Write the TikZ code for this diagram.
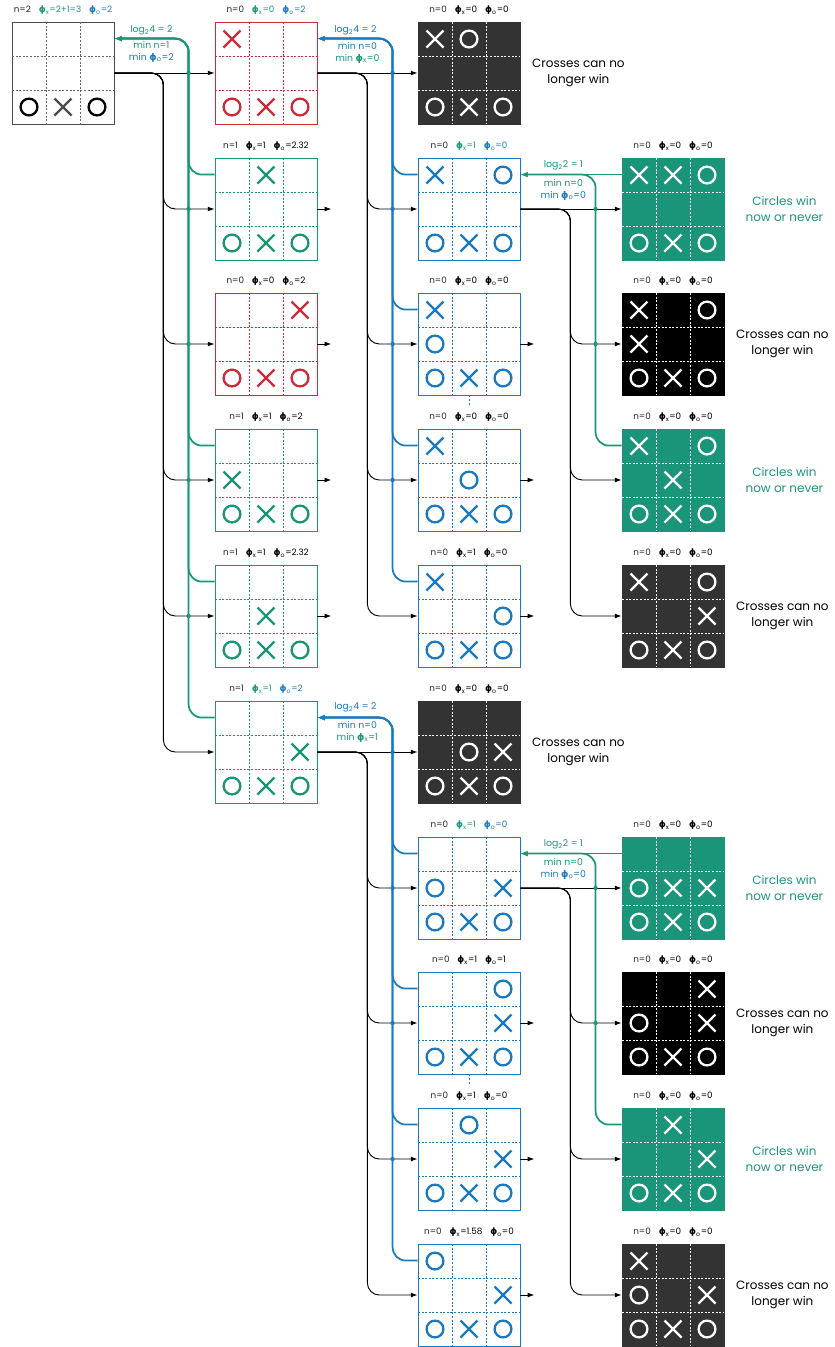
\documentclass[tikz,border=0pt]{standalone}
\usepackage{fontspec}
\setmainfont{Poppins}
\newfontfamily\phifont{DejaVu Sans}
\usetikzlibrary{calc,arrows.meta,positioning}
\definecolor{tgreen}{HTML}{1A957A}
\definecolor{tblue}{HTML}{1B79BE}
\definecolor{tred}{HTML}{CF2A3A}
\definecolor{tdark}{HTML}{333333}
\newcommand{\phix}{{\phifont\bfseries ϕ}\textsubscript{x}}
\newcommand{\phio}{{\phifont\bfseries ϕ}\textsubscript{o}}
\newcommand{\lblsep}{\hspace{0.9em}}
\newcommand{\stats}[5]{n=#1\lblsep\textcolor{#4}{\phix=#2}\lblsep\textcolor{#5}{\phio=#3}}
% #1 name, #2 centre, #3 board style, #4 grid colour, #5 cross colour, #6 circle colour, #7 crosses, #8 circles
\newcommand{\tttboard}[8]{%
  \node[board, #3] (#1) at (#2) {};
  \begin{scope}[shift={(#2)}]
    \draw[gridline, #4] (-17,-51) -- (-17,51) (17,-51) -- (17,51) (-51,-17) -- (51,-17) (-51,17) -- (51,17);
    \foreach \rw/\cl in {#7}
      \draw[tttmark, #5] ({(\cl-2)*34-8.5},{(\rw-2)*34-8.5}) -- ++(17,17) ++(-17,0) -- ++(17,-17);
    \foreach \rw/\cl in {#8}
      \draw[tttmark, #6] ({(\cl-2)*34},{(\rw-2)*34}) circle (6.3pt);
  \end{scope}}

\begin{document}
\begin{tikzpicture}[x=0.75pt,y=-0.75pt,
  board/.style={rectangle, minimum size=76.5pt, inner sep=0pt, line width=0.6pt},
  plainboard/.style={draw=black!70, fill=white},
  redboard/.style={draw=tred, fill=white},
  greenboard/.style={draw=tgreen, fill=white},
  blueboard/.style={draw=tblue, fill=white},
  darkboard/.style={draw=tdark, fill=tdark},
  blackboard/.style={draw=black, fill=black},
  winboard/.style={draw=tgreen, fill=tgreen},
  gridline/.style={line width=0.5pt, dash pattern=on 1.5pt off 1.2pt},
  tttmark/.style={line width=1.7pt},
  playline/.style={-{Latex[length=5pt,width=3.6pt]}, line width=0.7pt, rounded corners=9pt},
  scoreline/.style={-{Latex[length=5.5pt,width=4.2pt]}, line width=1.3pt, rounded corners=10pt},
  boardlabel/.style={font=\fontsize{6.6}{7.5}\selectfont, inner sep=1pt, text=black!85},
  scorenote/.style={font=\fontsize{7}{9}\selectfont, align=center, inner sep=0pt},
  verdict/.style={font=\fontsize{9}{12}\selectfont, align=center}]
  \useasboundingbox (0,0) rectangle (835,1347);

  % column 1
  \tttboard{b1}{63,73}{plainboard}{black!60}{black!70}{black}{3/2}{3/1,3/3}
  % column 2
  \tttboard{b2a}{266,73}{redboard}{tred}{tred}{tred}{1/1,3/2}{3/1,3/3}
  \tttboard{b2b}{266,209}{greenboard}{tgreen}{tgreen}{tgreen}{1/2,3/2}{3/1,3/3}
  \tttboard{b2c}{266,344}{redboard}{tred}{tred}{tred}{1/3,3/2}{3/1,3/3}
  \tttboard{b2d}{266,480}{greenboard}{tgreen}{tgreen}{tgreen}{2/1,3/2}{3/1,3/3}
  \tttboard{b2e}{266,616}{greenboard}{tgreen}{tgreen}{tgreen}{2/2,3/2}{3/1,3/3}
  \tttboard{b2f}{266,752}{greenboard}{tgreen}{tgreen}{tgreen}{2/3,3/2}{3/1,3/3}
  % column 3
  \tttboard{b3a}{469,73}{darkboard}{white}{white}{white}{1/1,3/2}{1/2,3/1,3/3}
  \tttboard{b3b}{469,209}{blueboard}{tblue}{tblue}{tblue}{1/1,3/2}{1/3,3/1,3/3}
  \tttboard{b3c}{469,344}{blueboard}{tblue}{tblue}{tblue}{1/1,3/2}{2/1,3/1,3/3}
  \tttboard{b3d}{469,480}{blueboard}{tblue}{tblue}{tblue}{1/1,3/2}{2/2,3/1,3/3}
  \tttboard{b3e}{469,616}{blueboard}{tblue}{tblue}{tblue}{1/1,3/2}{2/3,3/1,3/3}
  \tttboard{b3f}{469,752}{darkboard}{white}{white}{white}{2/3,3/2}{2/2,3/1,3/3}
  \tttboard{b3g}{469,888}{blueboard}{tblue}{tblue}{tblue}{2/3,3/2}{2/1,3/1,3/3}
  \tttboard{b3h}{469,1023}{blueboard}{tblue}{tblue}{tblue}{2/3,3/2}{1/3,3/1,3/3}
  \tttboard{b3i}{469,1159}{blueboard}{tblue}{tblue}{tblue}{2/3,3/2}{1/2,3/1,3/3}
  \tttboard{b3j}{469,1295}{blueboard}{tblue}{tblue}{tblue}{2/3,3/2}{1/1,3/1,3/3}
  % column 4
  \tttboard{b4a}{673,209}{winboard}{white}{white}{white}{1/1,1/2,3/2}{1/3,3/1,3/3}
  \tttboard{b4b}{673,344}{blackboard}{white}{white}{white}{1/1,2/1,3/2}{1/3,3/1,3/3}
  \tttboard{b4c}{673,480}{winboard}{white}{white}{white}{1/1,2/2,3/2}{1/3,3/1,3/3}
  \tttboard{b4d}{673,616}{darkboard}{white}{white}{white}{1/1,2/3,3/2}{1/3,3/1,3/3}
  \tttboard{b4e}{673,888}{winboard}{white}{white}{white}{2/2,2/3,3/2}{2/1,3/1,3/3}
  \tttboard{b4f}{673,1023}{blackboard}{white}{white}{white}{1/3,2/3,3/2}{2/1,3/1,3/3}
  \tttboard{b4g}{673,1159}{winboard}{white}{white}{white}{1/2,2/3,3/2}{3/1,3/3}
  \tttboard{b4h}{673,1295}{darkboard}{white}{white}{white}{1/1,2/3,3/2}{2/1,3/1,3/3}

  % labels above the boards
  \foreach \nb/\vn/\vx/\vo/\cx/\co in {b1/2/2+1=3/2/tgreen/tblue, b2a/0/0/2/tgreen/tblue,
      b2b/1/1/2.32/black/black, b2c/0/0/2/black/black, b2d/1/1/2/black/black,
      b2e/1/1/2.32/black/black, b2f/1/1/2/tgreen/tblue,
      b3a/0/0/0/black/black, b3b/0/1/0/tgreen/tblue, b3c/0/0/0/black/black,
      b3d/0/0/0/black/black, b3e/0/1/0/black/black, b3f/0/0/0/black/black,
      b3g/0/1/0/tgreen/tblue, b3h/0/1/1/black/black, b3i/0/1/0/black/black,
      b3j/0/1.58/0/black/black,
      b4a/0/0/0/black/black, b4b/0/0/0/black/black, b4c/0/0/0/black/black,
      b4d/0/0/0/black/black, b4e/0/0/0/black/black, b4f/0/0/0/black/black,
      b4g/0/0/0/black/black, b4h/0/0/0/black/black}
    \node[boardlabel, above=4pt of \nb] {\stats{\vn}{\vx}{\vo}{\cx}{\co}};

  % moves
  \draw[playline] (b1.east) -- (b2a.west);
  \foreach \nb in {b2b,b2c,b2d,b2e,b2f}
    \draw[playline] (b1.east) -- ++(49,0) |- (\nb.west);
  \draw[playline] (b2a.east) -- (b3a.west);
  \foreach \nb in {b3b,b3c,b3d,b3e}
    \draw[playline] (b2a.east) -- ++(50,0) |- (\nb.west);
  \draw[playline] (b2f.east) -- (b3f.west);
  \foreach \nb in {b3g,b3h,b3i,b3j}
    \draw[playline] (b2f.east) -- ++(50,0) |- (\nb.west);
  \draw[playline] (b3b.east) -- (b4a.west);
  \foreach \nb in {b4b,b4c,b4d}
    \draw[playline] (b3b.east) -- ++(50,0) |- (\nb.west);
  \draw[playline] (b3g.east) -- (b4e.west);
  \foreach \nb in {b4f,b4g,b4h}
    \draw[playline] (b3g.east) -- ++(50,0) |- (\nb.west);
  \foreach \nb in {b2b,b2c,b2d,b2e,b3c,b3d,b3e,b3h,b3i,b3j}
    \draw[playline] (\nb.east) -- ++(14,0);
  \draw[gridline, tblue] (b3c.south) -- ++(0,10);
  \draw[gridline, tblue] (b3h.south) -- ++(0,10);

  % scores passed back
  \foreach \nb in {b2b,b2d,b2e,b2f}
    \draw[scoreline, tgreen] ($(\nb.north west)+(0,17)$) -- ++(-26,0) |- ($(b1.north east)+(0,17)$);
  \foreach \nb in {b3b,b3c,b3d,b3e}
    \draw[scoreline, tblue] ($(\nb.north west)+(0,17)$) -- ++(-25,0) |- ($(b2a.north east)+(0,17)$);
  \foreach \nb in {b3g,b3h,b3i,b3j}
    \draw[scoreline, tblue] ($(\nb.north west)+(0,17)$) -- ++(-25,0) |- ($(b2f.north east)+(0,17)$);
  \draw[scoreline, tgreen] ($(b4a.north west)+(0,17)$) -- ($(b3b.north east)+(0,17)$);
  \draw[scoreline, tgreen] ($(b4c.north west)+(0,17)$) -- ++(-26,0) |- ($(b3b.north east)+(0,17)$);
  \draw[scoreline, tgreen] ($(b4e.north west)+(0,17)$) -- ($(b3g.north east)+(0,17)$);
  \draw[scoreline, tgreen] ($(b4g.north west)+(0,17)$) -- ++(-26,0) |- ($(b3g.north east)+(0,17)$);

  % crossings
  \coordinate (gx1) at ($(b2b.north west)+(-26,0)$);
  \coordinate (bx1) at ($(b3b.north west)+(-25,0)$);
  \coordinate (gx2) at ($(b4c.north west)+(-26,0)$);
  \foreach \nb in {b2a,b2b,b2c,b2d,b2e}
    \fill[tgreen] (gx1 |- \nb.west) circle (1.6pt);
  \foreach \nb in {b3a,b3b,b3c,b3d,b3f,b3g,b3h,b3i}
    \fill[tblue] (bx1 |- \nb.west) circle (1.6pt);
  \foreach \nb in {b4a,b4b,b4e,b4f}
    \fill[tgreen] (gx2 |- \nb.west) circle (1.6pt);

  % score notes
  \node[scorenote, tgreen] at ($(b1.north east)+(37,9)$) {log\textsubscript{2}4 = 2};
  \node[scorenote] at ($(b1.north east)+(37,30)$) {\textcolor{tgreen}{min n=1}\\\textcolor{tblue}{min \phio=2}};
  \node[scorenote, tblue] at ($(b2a.north east)+(38,9)$) {log\textsubscript{2}4 = 2};
  \node[scorenote] at ($(b2a.north east)+(40,31)$) {\textcolor{tblue}{min n=0}\\\textcolor{tgreen}{min \phix=0}};
  \node[scorenote, tblue] at ($(b2f.north east)+(38,7)$) {log\textsubscript{2}4 = 2};
  \node[scorenote] at ($(b2f.north east)+(40,31)$) {\textcolor{tblue}{min n=0}\\\textcolor{tgreen}{min \phix=1}};
  \node[scorenote, tgreen] at ($(b3b.north east)+(43,8)$) {log\textsubscript{2}2 = 1};
  \node[scorenote] at ($(b3b.north east)+(43,32)$) {\textcolor{tgreen}{min n=0}\\\textcolor{tblue}{min \phio=0}};
  \node[scorenote, tgreen] at ($(b3g.north east)+(43,8)$) {log\textsubscript{2}2 = 1};
  \node[scorenote] at ($(b3g.north east)+(43,32)$) {\textcolor{tgreen}{min n=0}\\\textcolor{tblue}{min \phio=0}};

  % outcomes
  \foreach \nb in {b3a,b3f,b4b,b4d,b4f,b4h}
    \node[verdict] at ($(\nb.east)+(58,0)$) {Crosses can no\\longer win};
  \foreach \nb in {b4a,b4c,b4e,b4g}
    \node[verdict, tgreen] at ($(\nb.east)+(60,0)$) {Circles win\\now or never};
\end{tikzpicture}
\end{document}
